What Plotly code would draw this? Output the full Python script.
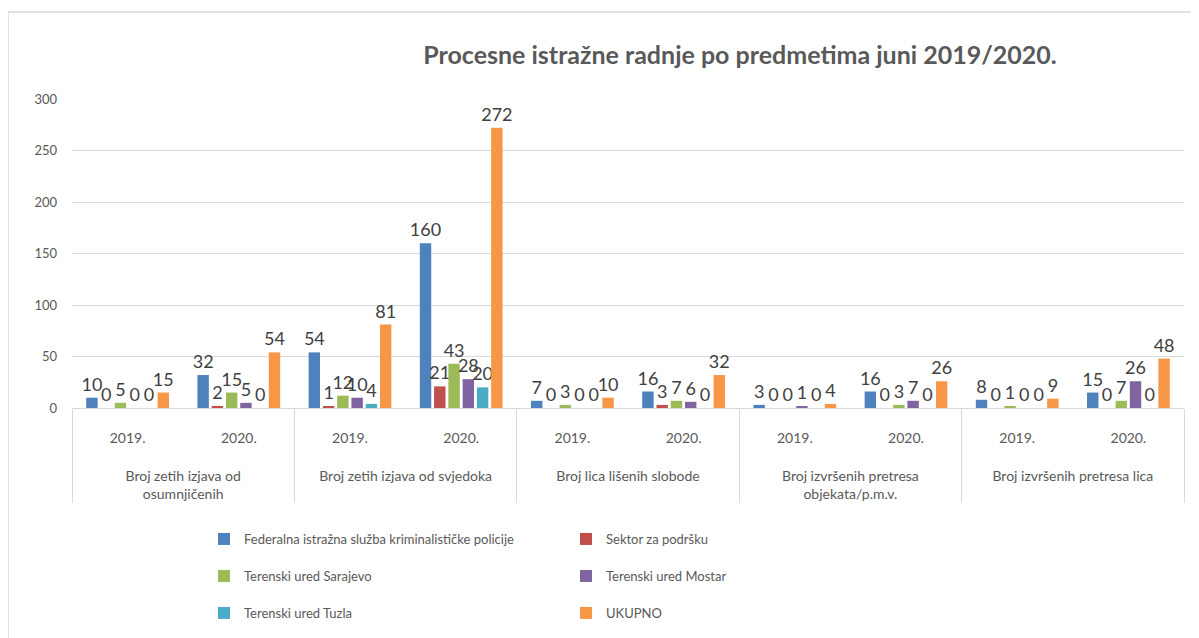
import plotly.graph_objects as go

PAD = "<br><br>"
groups = [
    PAD + "Broj zetih izjava od<br>osumnjičenih",
    PAD + "Broj zetih izjava od svjedoka",
    PAD + "Broj lica lišenih slobode",
    PAD + "Broj izvršenih pretresa<br>objekata/p.m.v.",
    PAD + "Broj izvršenih pretresa lica",
]
years = ["2019.", "2020."]

series_names = [
    "Federalna istražna služba kriminalističke policije",
    "Sektor za podršku",
    "Terenski ured Sarajevo",
    "Terenski ured Mostar",
    "Terenski ured Tuzla",
    "UKUPNO",
]
# values ordered: group1 2019, group1 2020, group2 2019, ...
fed      = [10, 32, 54, 160, 7, 16, 3, 16, 8, 15]
sektor   = [0, 2, 1, 21, 0, 3, 0, 0, 0, 0]
sarajevo = [5, 15, 12, 43, 3, 7, 0, 3, 1, 7]
mostar   = [0, 5, 10, 28, 0, 6, 1, 7, 0, 26]
tuzla    = [0, 0, 4, 20, 0, 0, 0, 0, 0, 0]
ukupno   = [15, 54, 81, 272, 10, 32, 4, 26, 9, 48]
series_values = [fed, sektor, sarajevo, mostar, tuzla, ukupno]
colors = ["#4F81BD", "#C0504D", "#9BBB59", "#8064A2", "#4BACC6", "#F79646"]
legend_ids = ["legend", "legend", "legend2", "legend2", "legend3", "legend3"]

x_level1 = [g for g in groups for _ in years]
x_level2 = [y for _ in groups for y in years]

FONT = "Lato"
GRAY = "#595959"

fig = go.Figure()
for name, vals, col, lg in zip(series_names, series_values, colors, legend_ids):
    fig.add_trace(go.Bar(
        name=name,
        x=[x_level1, x_level2],
        y=vals,
        marker=dict(color=col, line=dict(width=0)),
        text=[str(v) for v in vals],
        textposition="outside",
        textfont=dict(family=FONT, size=18, color="#404040"),
        constraintext="none",
        cliponaxis=False,
        legend=lg,
    ))

# page body has an 8px margin: screen = figure + 8
OFF = 8
# plot area in screen px: left 72, right 1184, top 99, bottom 408
L, R, T, B = 72, 1184, 99, 408
W, H = 1199, 638
pw, ph = R - L, B - T

def px_x(x):
    return (x - L) / pw

def px_y(y):
    return (B - y) / ph

leg_common = dict(
    orientation="h",
    xanchor="left",
    yanchor="middle",
    entrywidth=317,
    font=dict(family=FONT, size=13, color=GRAY),
    bgcolor="rgba(0,0,0,0)",
    itemclick=False,
)

fig.update_layout(
    width=W,
    height=H,
    margin=dict(l=L - OFF, r=W - (R - OFF), t=T - OFF, b=H - (B - OFF), autoexpand=False),
    paper_bgcolor="white",
    plot_bgcolor="white",
    barmode="group",
    bargap=0.23,
    bargroupgap=0.2,
    font=dict(family=FONT, size=13, color=GRAY),
    title=dict(
        text="<b>Procesne istražne radnje po predmetima juni 2019/2020.</b>",
        font=dict(family=FONT, size=25, color=GRAY),
        x=(740 - OFF) / W,
        xanchor="center",
        y=1 - (55 - OFF) / H,
        yanchor="middle",
    ),
    xaxis=dict(
        type="multicategory",
        showline=True,
        linecolor="#D9D9D9",
        linewidth=1,
        showgrid=False,
        showdividers=True,
        dividercolor="#D9D9D9",
        dividerwidth=1,
        tickfont=dict(family=FONT, size=14, color=GRAY),
        ticks="",
        ticklabelstandoff=17,
        automargin=False,
    ),
    yaxis=dict(
        range=[0, 300],
        dtick=50,
        showgrid=True,
        gridcolor="#D9D9D9",
        gridwidth=1,
        showline=False,
        zeroline=False,
        tickfont=dict(family=FONT, size=13, color=GRAY),
        ticklabelstandoff=14,
        automargin=False,
    ),
    legend=dict(x=px_x(204), y=px_y(539), **leg_common),
    legend2=dict(x=px_x(204), y=px_y(576), **leg_common),
    legend3=dict(x=px_x(204), y=px_y(613), **leg_common),
    shapes=[dict(
        type="rect",
        xref="paper", yref="paper",
        x0=px_x(8), x1=px_x(1215),
        y0=px_y(660), y1=px_y(12),
        line=dict(color="#D9D9D9", width=1.5),
        fillcolor="rgba(0,0,0,0)",
        layer="below",
    )],
)

fig.write_html("out.html")
